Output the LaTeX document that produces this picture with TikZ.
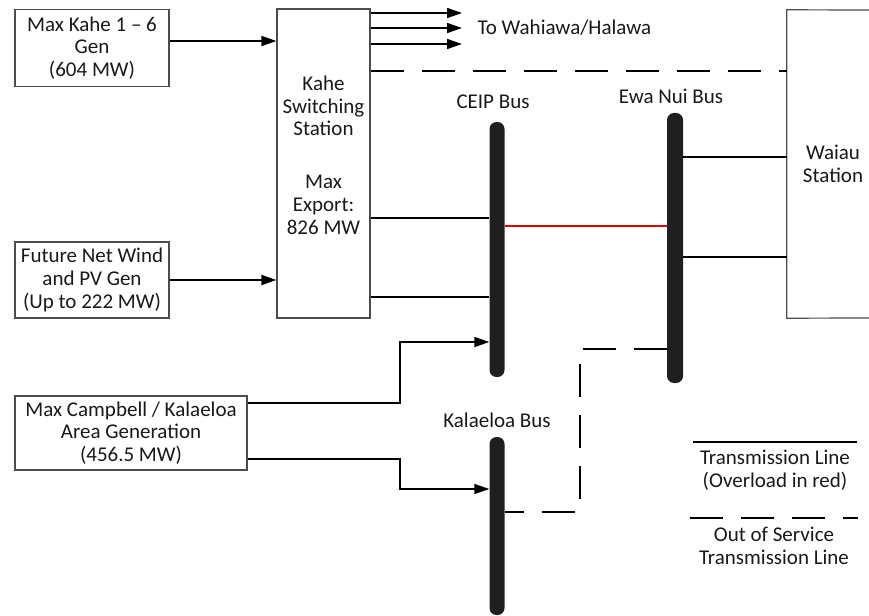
\documentclass[tikz,border=0pt]{standalone}
\usepackage{fontspec}
\setmainfont{Carlito}
\usetikzlibrary{arrows.meta}
\tikzset{
  box/.style={draw=black!70, line width=1.2pt, align=center, inner sep=0pt, text=black!90},
  bus/.style={fill=black!88, rounded corners=7pt, minimum width=15pt, inner sep=0pt},
  tline/.style={line width=1.6pt},
  oos/.style={line width=1.6pt, dash pattern=on 33pt off 18pt},
  feed/.style={line width=1.6pt, -{Triangle[length=15pt,width=10pt]}},
  lbl/.style={align=center, text=black!90}
}
\begin{document}
\begin{tikzpicture}[x=1pt, y=-1pt, font=\fontsize{21}{22.8}\selectfont]
  \useasboundingbox (0,0) rectangle (869,615);
  % sources and stations
  \node[box, minimum width=154, minimum height=77] (KaheGen) at (92,48) {Max Kahe 1 -- 6\\Gen\\(604 MW)};
  \node[box, minimum width=154, minimum height=76] (Wind) at (92,280) {Future Net Wind\\and PV Gen\\(Up to 222 MW)};
  \node[box, minimum width=232, minimum height=74] (Campbell) at (131,433) {Max Campbell / Kalaeloa\\Area Generation\\(456.5 MW)};
  \node[box, minimum width=93, minimum height=309] (Kahe) at (323.5,163.5) {};
  \node[lbl] (KaheTxt) at (323.5,155) {Kahe\\Switching\\Station\\[30pt]Max\\Export:\\826 MW};
  \node[lbl, minimum width=92, minimum height=308] (Waiau) at (833,164) {Waiau\\Station};
  \coordinate (WaiauNE) at (869,10);
  \coordinate (WaiauSE) at (869,318);
  \draw[black!70, line width=1.2pt] (WaiauNE) -- (Waiau.north west) -- (Waiau.south west) -- (WaiauSE);
  % buses
  \node[bus, minimum height=255] (CEIP) at (497,249.5) {};
  \node[bus, minimum height=270, minimum width=16] (EwaNui) at (675,248) {};
  \node[bus, minimum height=178] (Kalaeloa) at (497,526) {};
  \node[lbl] (CEIPTxt) at (493,102) {CEIP Bus};
  \node[lbl] (EwaNuiTxt) at (671,96) {Ewa Nui Bus};
  \node[lbl] (KalaeloaTxt) at (497,420) {Kalaeloa Bus};
  % exports
  \coordinate (W1) at (462,13);
  \coordinate (W2) at (462,28);
  \coordinate (W3) at (462,44);
  \node[lbl, anchor=west] (WahiawaTxt) at (474,28) {To Wahiawa/Halawa};
  \draw[feed] (Kahe.east |- W1) -- (W1);
  \draw[feed] (Kahe.east |- W2) -- (W2);
  \draw[feed] (Kahe.east |- W3) -- (W3);
  % feeds
  \draw[feed] (KaheGen.east |- 0,41) -- (Kahe.west |- 0,41);
  \draw[feed] (Wind.east) -- (Kahe.west |- Wind.east);
  \draw[feed] (Campbell.east |- 0,403) -| (400,342) -- (CEIP.west |- 0,342);
  \draw[feed] (Campbell.east |- 0,459) -| (400,489) -- (Kalaeloa.west |- 0,489);
  % lines
  \draw[tline] (Kahe.east |- 0,218) -- (CEIP.west |- 0,218);
  \draw[tline] (Kahe.east |- 0,297) -- (CEIP.west |- 0,297);
  \draw[tline, red!90!black] (CEIP.east |- 0,226) -- (EwaNui.west |- 0,226);
  \draw[tline] (EwaNui.east |- 0,157) -- (Waiau.west |- 0,157);
  \draw[tline] (EwaNui.east |- 0,257) -- (Waiau.west |- 0,257);
  \draw[oos] (Kahe.east |- 0,71) -- (Waiau.west |- 0,71);
  \draw[oos, dash phase=14pt] (Kalaeloa.east |- 0,512) -| (580,349) -- (EwaNui.west |- 0,349);
  % legend
  \coordinate (LegA) at (693,442);
  \coordinate (LegB) at (857,442);
  \coordinate (LegC) at (690,518);
  \coordinate (LegD) at (858,518);
  \draw[tline] (LegA) -- (LegB);
  \node[lbl] (LegTxt1) at (775,470) {Transmission Line\\(Overload in red)};
  \draw[oos] (LegC) -- (LegD);
  \node[lbl] (LegTxt2) at (774,546) {Out of Service\\Transmission Line};
\end{tikzpicture}
\end{document}
